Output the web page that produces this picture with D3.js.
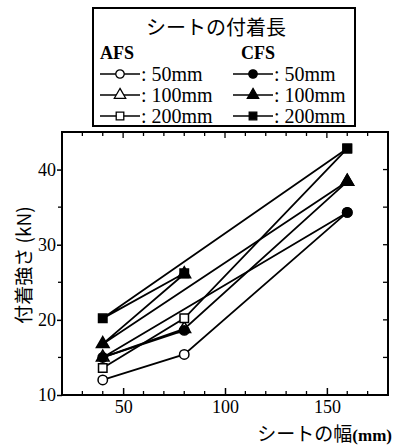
<!DOCTYPE html>
<html>
<head>
<meta charset="utf-8">
<script src="https://cdn.jsdelivr.net/npm/d3@7"></script>
<style>
  body { margin: 0; background: #fff; }
  svg { display: block; }
</style>
</head>
<body>
<div id="chart"></div>
<script>
// data
const widths = [40, 80, 160];           // sheet width (mm)
const lengths = ["50mm", "100mm", "200mm"];
const afs50  = [12.0, 15.4, 34.3];
const afs100 = [15.0, 18.8, 38.4];
const afs200 = [13.6, 20.2, 42.8];
const cfs50  = [15.0, 18.6, 34.3];
const cfs100 = [16.8, 26.1, 38.4];
const cfs200 = [20.2, 26.2, 42.8];
const xTicks = [50, 100, 150];
const yTicks = [10, 20, 30, 40];

const width = 393, height = 448;
const margin = {left: 62, right: 5, top: 132, bottom: 53};

const svg = d3.select('#chart').append('svg')
  .attr('width', width)
  .attr('height', height);

const x = d3.scaleLinear().domain([20, 180]).range([margin.left, width - margin.right]);
const y = d3.scaleLinear().domain([10, 45]).range([height - margin.bottom, margin.top]);

const serif = "'Liberation Serif', 'Times New Roman', serif";
const gothic = "'Noto Sans CJK JP', 'Noto Sans', sans-serif";

// frame
svg.append('rect')
  .attr('x', x(20)).attr('y', y(45))
  .attr('width', x(180) - x(20)).attr('height', y(10) - y(45))
  .attr('fill', 'none').attr('stroke', '#000').attr('stroke-width', 2);

// bottom axis, ticks pointing in
const xAxis = d3.axisBottom(x).tickValues(xTicks).tickSize(-7).tickPadding(5).tickFormat(d3.format('d'));
const gx = svg.append('g').attr('transform', `translate(0,${y(10)})`).call(xAxis);
gx.select('.domain').remove();
gx.selectAll('line').attr('stroke-width', 1.5);
gx.selectAll('text').attr('font-family', serif).attr('font-size', 18).attr('fill', '#000');

const xMinor = d3.range(30, 180, 10).filter(v => !xTicks.includes(v));
svg.append('g').selectAll('line').data(xMinor).enter().append('line')
  .attr('x1', d => x(d)).attr('x2', d => x(d))
  .attr('y1', y(10)).attr('y2', y(10) - 4)
  .attr('stroke', '#000').attr('stroke-width', 1.3);

// top mirror ticks
svg.append('g').selectAll('line').data(d3.range(30, 180, 10)).enter().append('line')
  .attr('x1', d => x(d)).attr('x2', d => x(d))
  .attr('y1', y(45)).attr('y2', d => y(45) + (xTicks.includes(d) ? 6 : 4))
  .attr('stroke', '#000').attr('stroke-width', 1.3);

// left axis, ticks pointing out
const yAxis = d3.axisLeft(y).tickValues(yTicks).tickSize(5).tickPadding(1).tickFormat(d3.format('d'));
const gy = svg.append('g').attr('transform', `translate(${x(20)},0)`).call(yAxis);
gy.select('.domain').remove();
gy.selectAll('line').attr('stroke-width', 1.5);
gy.selectAll('text').attr('font-family', serif).attr('font-size', 18).attr('fill', '#000');

svg.append('g').selectAll('line').data([15, 25, 35]).enter().append('line')
  .attr('x1', x(20)).attr('x2', x(20) - 4)
  .attr('y1', d => y(d)).attr('y2', d => y(d))
  .attr('stroke', '#000').attr('stroke-width', 1.3);

// right mirror ticks
svg.append('g').selectAll('line').data(d3.range(15, 45, 5)).enter().append('line')
  .attr('x1', x(180)).attr('x2', x(180) - 5)
  .attr('y1', d => y(d)).attr('y2', d => y(d))
  .attr('stroke', '#000').attr('stroke-width', 1.3);

// axis titles
svg.append('text')
  .attr('transform', `translate(31,${y(27.3)}) rotate(-90)`)
  .attr('text-anchor', 'middle')
  .attr('font-family', gothic).attr('font-size', 19)
  .text('付着強さ (kN)');

const xt = svg.append('text')
  .attr('x', width - 1).attr('y', 441)
  .attr('text-anchor', 'end');
xt.append('tspan').attr('font-family', gothic).attr('font-size', 19).text('シートの幅');
xt.append('tspan').attr('font-family', serif).attr('font-size', 17).attr('font-weight', 'bold').text('(mm)');

// series
const series = [
  {fiber: 'AFS', len: lengths[0], vals: afs50,  shape: 'circle',   filled: false},
  {fiber: 'AFS', len: lengths[1], vals: afs100, shape: 'triangle', filled: false},
  {fiber: 'AFS', len: lengths[2], vals: afs200, shape: 'square',   filled: false},
  {fiber: 'CFS', len: lengths[0], vals: cfs50,  shape: 'circle',   filled: true},
  {fiber: 'CFS', len: lengths[1], vals: cfs100, shape: 'triangle', filled: true},
  {fiber: 'CFS', len: lengths[2], vals: cfs200, shape: 'square',   filled: true}
];

const symType = {circle: d3.symbolCircle, triangle: d3.symbolTriangle, square: d3.symbolSquare};
const symSize = {circle: 70, triangle: 70, square: 72};

// AFS is joined 40-80-160, CFS is joined from the 40mm point out to 80 and to 160 (as in the figure)
function segments(s) {
  const p = widths.map((w, i) => [x(w), y(s.vals[i])]);
  if (s.fiber === 'AFS') return [[p[0], p[1], p[2]]];
  return [[p[1], p[0], p[2]]];
}

const line = d3.line();
series.forEach(s => {
  segments(s).forEach(seg => {
    svg.append('path')
      .attr('d', line(seg))
      .attr('fill', 'none')
      .attr('stroke', '#000')
      .attr('stroke-width', 1.8);
  });
});

series.forEach(s => {
  svg.append('g').selectAll('path').data(s.vals).enter().append('path')
    .attr('transform', (d, i) => `translate(${x(widths[i])},${y(d)})`)
    .attr('d', d3.symbol().type(symType[s.shape]).size(symSize[s.shape]))
    .attr('fill', s.filled ? '#000' : '#fff')
    .attr('stroke', '#000')
    .attr('stroke-width', 1.5);
});

// legend
const lg = svg.append('g');
lg.append('rect')
  .attr('x', 93).attr('y', 8).attr('width', 262).attr('height', 118)
  .attr('fill', '#fff').attr('stroke', '#000').attr('stroke-width', 2);
lg.append('text')
  .attr('x', 216).attr('y', 35)
  .attr('text-anchor', 'middle')
  .attr('font-family', gothic).attr('font-size', 20)
  .text('シートの付着長');

const colX = {AFS: 100, CFS: 233};
['AFS', 'CFS'].forEach(f => {
  lg.append('text')
    .attr('x', f === 'AFS' ? colX[f] : colX[f] + 8).attr('y', 59)
    .attr('font-family', serif).attr('font-size', 18).attr('font-weight', 'bold')
    .text(f);
});

const rowY = d3.scalePoint().domain(lengths).range([74, 116]);
series.forEach(s => {
  const x0 = colX[s.fiber], yy = rowY(s.len);
  lg.append('line')
    .attr('x1', x0).attr('x2', x0 + 40)
    .attr('y1', yy).attr('y2', yy)
    .attr('stroke', '#000').attr('stroke-width', 1.5);
  lg.append('path')
    .attr('transform', `translate(${x0 + 20},${yy})`)
    .attr('d', d3.symbol().type(symType[s.shape]).size(symSize[s.shape] * 0.8))
    .attr('fill', s.filled ? '#000' : '#fff')
    .attr('stroke', '#000').attr('stroke-width', 1.3);
  lg.append('text')
    .attr('x', x0 + 41).attr('y', yy + 7)
    .attr('font-family', serif).attr('font-size', 20)
    .text(': ' + s.len);
});
</script>
</body>
</html>
